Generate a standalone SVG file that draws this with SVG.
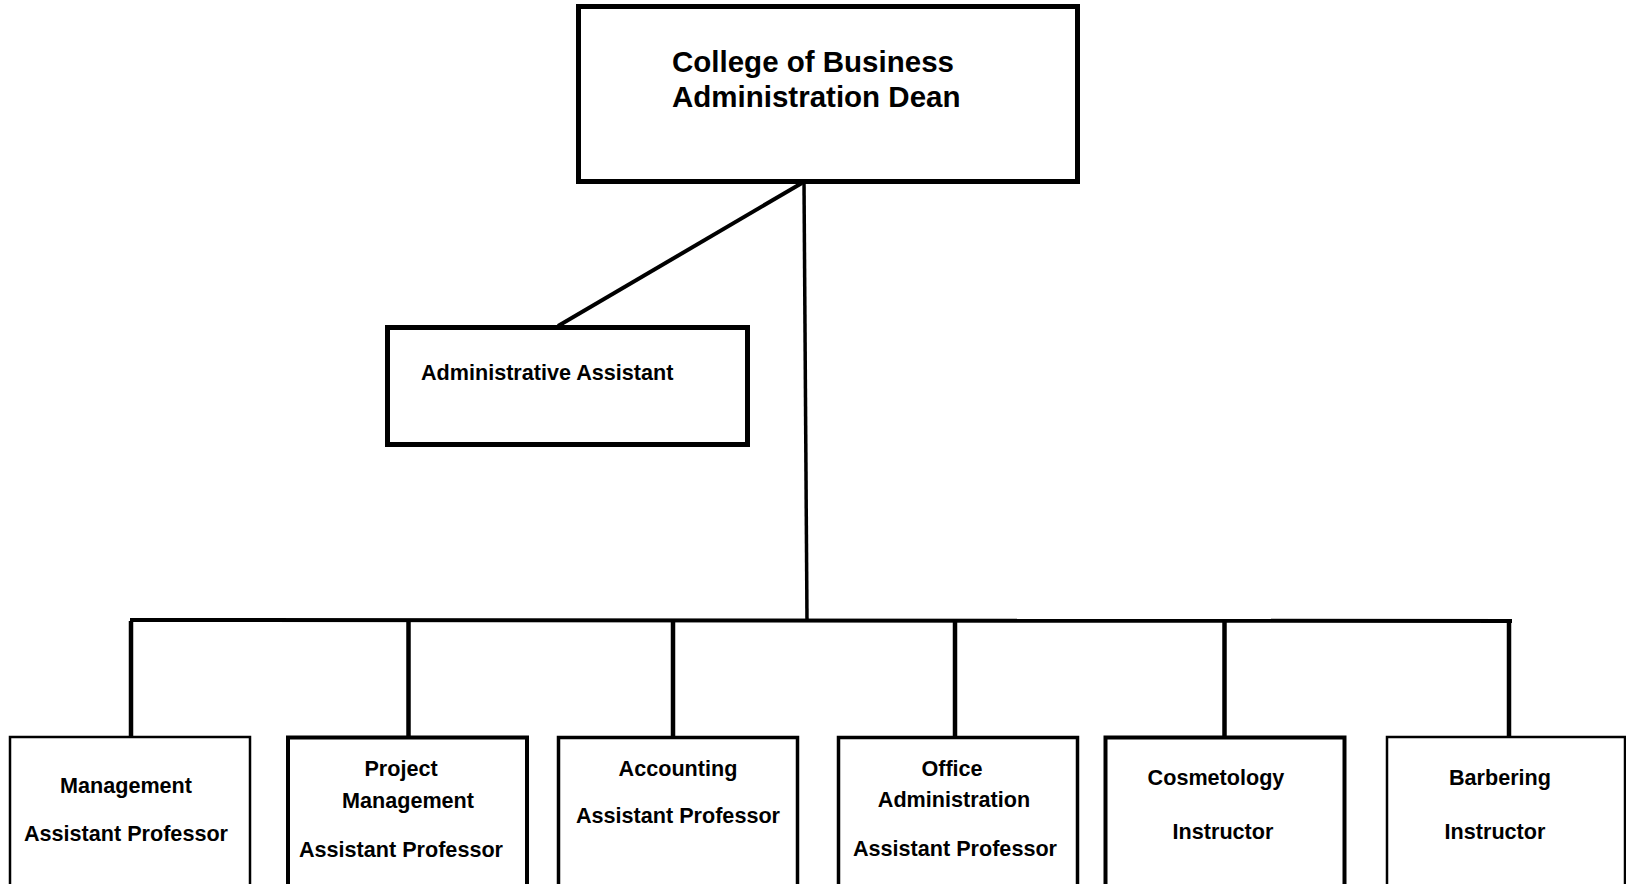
<svg xmlns="http://www.w3.org/2000/svg" width="1626" height="884" viewBox="0 0 1626 884">
<style>
.bg{fill:#fff}
.box{fill:#fff;stroke:#000}
.t{font-family:"Liberation Sans",Arial,sans-serif;font-weight:bold;fill:#000}
.big{font-size:29.5px}
.sm{font-size:21.6px}
.c{text-anchor:middle}
.ln{stroke:#000;fill:none;stroke-linecap:butt}
</style>
<rect class="bg" x="0" y="0" width="1626" height="884"/>
<g id="connectors">
<line class="ln" x1="802" y1="183" x2="558" y2="326" stroke-width="4"/>
<line class="ln" x1="804" y1="181" x2="807" y2="621" stroke-width="3.5"/>
<line class="ln" x1="130" y1="620" x2="1512" y2="621" stroke-width="4"/>
<line class="ln" x1="131" y1="621" x2="131" y2="737" stroke-width="4.5"/>
<line class="ln" x1="408.5" y1="621" x2="408.5" y2="737" stroke-width="4.5"/>
<line class="ln" x1="673" y1="621" x2="673" y2="737" stroke-width="4.5"/>
<line class="ln" x1="955" y1="621" x2="955" y2="737" stroke-width="4.5"/>
<line class="ln" x1="1224.5" y1="621" x2="1224.5" y2="737" stroke-width="4.5"/>
<line class="ln" x1="1509" y1="619" x2="1509" y2="737" stroke-width="4.5"/>
</g>
<g id="dean">
<rect class="box" x="578.5" y="6.5" width="499" height="175" stroke-width="5"/>
<text class="t big" x="672" y="72">College of Business</text>
<text class="t big" x="672" y="107">Administration Dean</text>
</g>
<g id="admin-assistant">
<rect class="box" x="387.5" y="327.5" width="360" height="117" stroke-width="5"/>
<text class="t sm" x="421" y="380">Administrative Assistant</text>
</g>
<g id="management">
<rect class="box" x="10" y="737" width="240" height="160" stroke-width="2.5"/>
<text class="t sm c" x="126" y="793">Management</text>
<text class="t sm c" x="126" y="841">Assistant Professor</text>
</g>
<g id="project-management">
<rect class="box" x="288" y="737.5" width="239" height="160" stroke-width="4"/>
<text class="t sm c" x="401" y="776">Project</text>
<text class="t sm c" x="408" y="808">Management</text>
<text class="t sm c" x="401" y="857">Assistant Professor</text>
</g>
<g id="accounting">
<rect class="box" x="558.5" y="737.5" width="239" height="160" stroke-width="3.5"/>
<text class="t sm c" x="678" y="776">Accounting</text>
<text class="t sm c" x="678" y="823">Assistant Professor</text>
</g>
<g id="office-administration">
<rect class="box" x="838.5" y="737.5" width="239" height="160" stroke-width="3.5"/>
<text class="t sm c" x="952" y="776">Office</text>
<text class="t sm c" x="954" y="807">Administration</text>
<text class="t sm c" x="955" y="856">Assistant Professor</text>
</g>
<g id="cosmetology">
<rect class="box" x="1105.5" y="737.5" width="239" height="160" stroke-width="4"/>
<text class="t sm c" x="1216" y="785">Cosmetology</text>
<text class="t sm c" x="1223" y="839">Instructor</text>
</g>
<g id="barbering">
<rect class="box" x="1387" y="737" width="238" height="160" stroke-width="2.5"/>
<text class="t sm c" x="1500" y="785">Barbering</text>
<text class="t sm c" x="1495" y="839">Instructor</text>
</g>
</svg>
